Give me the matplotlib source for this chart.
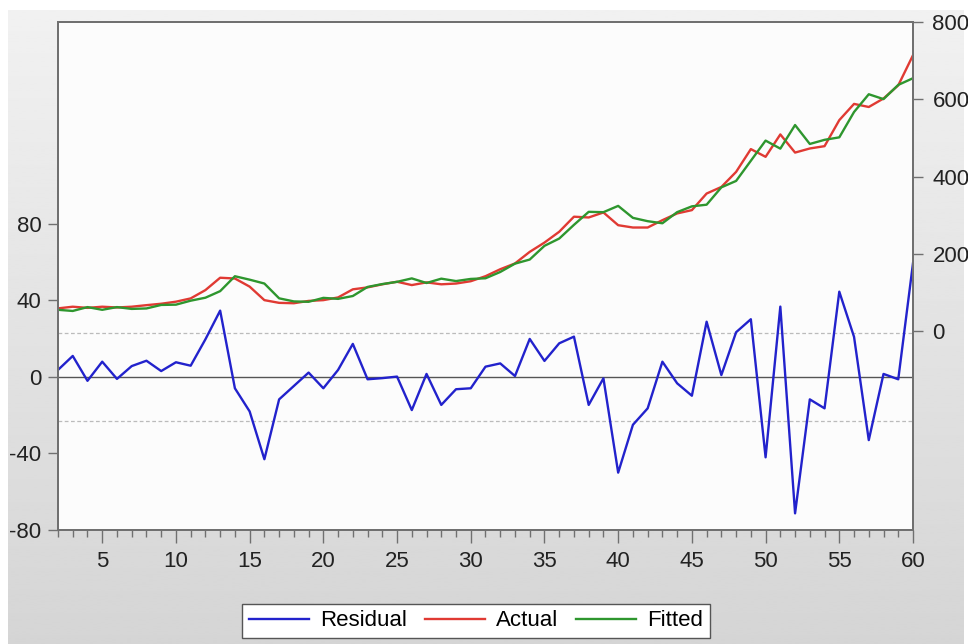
import matplotlib
matplotlib.use("Agg")
import matplotlib.pyplot as plt
import numpy as np
from matplotlib.ticker import MultipleLocator

plt.rcParams['font.family'] = ['Liberation Sans', 'DejaVu Sans']
plt.rcParams['axes.unicode_minus'] = False

# Datos: observaciones 2..60
obs = list(range(2, 61))
residual = [3.7, 11.0, -2.0, 8.0, -1.0, 5.7, 8.5, 3.1, 7.7, 5.9,
            19.7, 34.7, -5.9, -18.0, -43.0, -11.7, -4.7, 2.3, -5.9, 3.7,
            17.3, -1.2, -0.6, 0.2, -17.3, 1.6, -14.6, -6.4, -5.9, 5.4,
            7.1, 0.5, 19.9, 8.4, 17.6, 21.1, -14.6, -0.7, -50.0, -25.0,
            -16.4, 8.0, -3.3, -9.8, 28.9, 1.0, 23.4, 30.2, -42.0, 36.8,
            -71.3, -11.7, -16.4, 44.6, 21.0, -33.0, 1.6, -1.2, 59.5]
actual = [58.7, 63, 60, 63, 61, 63, 67, 70.7, 76, 84.5,
          106, 138, 136, 115, 80, 73, 72, 78, 80, 87,
          108, 113, 121, 127.6, 119, 126, 121, 123, 129, 142,
          160, 175, 205, 229, 257, 296, 294, 307, 274, 268,
          268, 287, 304.5, 313, 356, 373, 412, 471, 451, 509,
          462, 472.6, 478.6, 546, 588, 580, 602, 636, 714]
fitted = [55.0, 52.0, 62.0, 55.0, 62.0, 57.3, 58.5, 67.6, 68.3, 78.6,
          86.3, 103.3, 141.9, 133.0, 123.0, 84.7, 76.7, 75.7, 85.9, 83.3,
          90.7, 114.2, 121.6, 127.4, 136.3, 124.4, 135.6, 129.4, 134.9, 136.6,
          152.9, 174.5, 185.1, 220.6, 239.4, 274.9, 308.6, 307.7, 324.0, 293.0,
          284.4, 279.0, 307.8, 322.8, 327.1, 372.0, 388.6, 440.8, 493.0, 472.2,
          533.3, 484.3, 495.0, 501.4, 567.0, 613.0, 600.4, 637.2, 654.5]
se = 23.0   # error estandar de la regresion (bandas punteadas)

fig = plt.figure(figsize=(9.68, 6.44), dpi=100, facecolor='white')

# fondo gris degradado de la ventana
bg = fig.add_axes([0, 0, 1, 1], zorder=-5)
grad = np.linspace(0.945, 0.835, 256).reshape(-1, 1)
bg.imshow(grad, cmap='gray', vmin=0, vmax=1, aspect='auto',
          extent=[8, 964, 644, 10])
bg.set_xlim(0, 968)
bg.set_ylim(644, 0)
bg.axis('off')

ax = fig.add_axes([58/968, 1-530/644, (913-58)/968, (530-22)/644])
ax.set_facecolor('#fcfcfc')
ax2 = ax.twinx()

# residuos en el eje izquierdo
l1, = ax.plot(obs, residual, color='#2222cc', lw=1.7, label='Residual')
ax.axhline(0, color='#555555', lw=1.0, zorder=1)
ax.axhline(se, color='#bbbbbb', lw=0.9, ls=(0, (3, 2)), zorder=1)
ax.axhline(-se, color='#bbbbbb', lw=0.9, ls=(0, (3, 2)), zorder=1)

# actual y ajustado en el eje derecho
l2, = ax2.plot(obs, actual, color='#e03a33', lw=1.7, label='Actual')
l3, = ax2.plot(obs, fitted, color='#2e962e', lw=1.7, label='Fitted')

ax.set_xlim(2, 60)
ax.set_ylim(-80, 185.6)
ax2.set_ylim(-515, 800)
ax.set_yticks([-80, -40, 0, 40, 80])
ax2.set_yticks([0, 200, 400, 600, 800])
ax.set_xticks(range(5, 61, 5))
ax.xaxis.set_minor_locator(MultipleLocator(1))

for a in (ax, ax2):
    for s in a.spines.values():
        s.set_color('#707070')
        s.set_linewidth(1.4)
ax.tick_params(axis='y', length=7, width=1, color='#707070', pad=5,
               labelsize=16, labelcolor='#222222')
ax2.tick_params(axis='y', length=7, width=1, color='#707070', pad=7,
                labelsize=16, labelcolor='#222222')
ax.tick_params(axis='x', which='major', length=9, width=1, color='#707070',
               pad=6, labelsize=16, labelcolor='#222222')
ax.tick_params(axis='x', which='minor', length=5, width=1, color='#707070')

leg = fig.legend(handles=[l1, l2, l3], loc='center', ncol=3,
                 bbox_to_anchor=(476/968, 23/644), bbox_transform=fig.transFigure,
                 fontsize=16, handlelength=2.7, handletextpad=0.5,
                 columnspacing=0.8, fancybox=False, framealpha=1,
                 edgecolor='#555555', borderpad=0.3)
leg.get_frame().set_linewidth(1.0)

fig.savefig('out.png', dpi=100, facecolor=fig.get_facecolor())
